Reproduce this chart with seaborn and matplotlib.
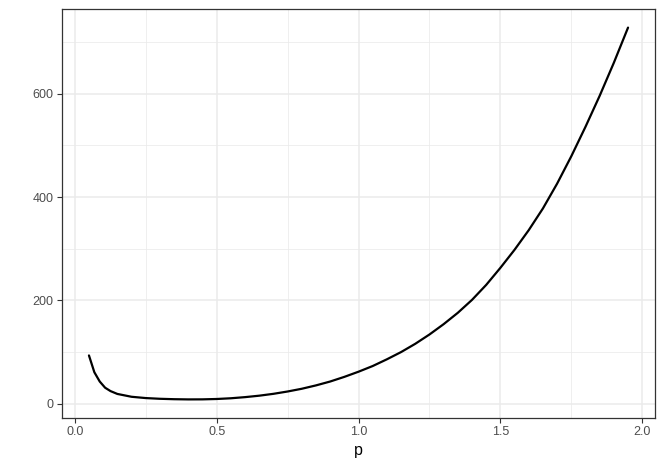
import numpy as np
import pandas as pd
import matplotlib
matplotlib.use("Agg")
import matplotlib.pyplot as plt
import seaborn as sns
from matplotlib.ticker import MultipleLocator

# values
p_vals = [0.05, 0.069, 0.088, 0.107, 0.126, 0.15, 0.2, 0.25, 0.3, 0.35,
          0.4, 0.45, 0.5, 0.55, 0.6, 0.65, 0.7, 0.75, 0.8, 0.85,
          0.9, 0.95, 1.0, 1.05, 1.1, 1.15, 1.2, 1.25, 1.3, 1.35,
          1.4, 1.45, 1.5, 1.55, 1.6, 1.65, 1.7, 1.75, 1.8, 1.85,
          1.9, 1.95]
y_vals = [93.5, 61, 43, 31, 24.5, 19, 13.5, 11, 9.6, 8.8,
          8.4, 8.5, 9.2, 10.6, 12.8, 15.6, 19.2, 23.7, 29, 35.5,
          43, 52, 62, 73, 86, 100, 116, 134, 154, 176,
          201, 230, 263, 298, 336, 378, 426, 479, 536, 596,
          660, 728]
x_ticks = [0.0, 0.5, 1.0, 1.5, 2.0]
x_tick_labels = ["0.0", "0.5", "1.0", "1.5", "2.0"]
y_ticks = [0, 200, 400, 600]
y_tick_labels = ["0", "200", "400", "600"]

df = pd.DataFrame({"p": p_vals, "y": y_vals})

sns.set_theme(style="white")
plt.rcParams["font.family"] = ["Liberation Sans", "DejaVu Sans"]

fig = plt.figure(figsize=(6.64, 4.70), dpi=100)
ax = fig.add_axes([62/664, 1-418/470, (655-62)/664, (418-9)/470])
ax.set_facecolor("white")

sns.lineplot(data=df, x="p", y="y", ax=ax, color="black", linewidth=1.6,
             estimator=None, sort=False)

xr = max(p_vals) - min(p_vals)
yr = max(y_vals) - min(y_vals)
ax.set_xlim(min(p_vals) - 0.05*xr, max(p_vals) + 0.05*xr)
ax.set_ylim(min(y_vals) - 0.05*yr, max(y_vals) + 0.05*yr)

ax.set_xticks(x_ticks)
ax.set_xticklabels(x_tick_labels)
ax.set_yticks(y_ticks)
ax.set_yticklabels(y_tick_labels)
ax.xaxis.set_minor_locator(MultipleLocator(0.25))
ax.yaxis.set_minor_locator(MultipleLocator(100))

ax.grid(True, which="major", color="#EBEBEB", linewidth=1.1)
ax.grid(True, which="minor", color="#EBEBEB", linewidth=0.55)
ax.set_axisbelow(True)

for s in ax.spines.values():
    s.set_visible(True)
    s.set_color("#333333")
    s.set_linewidth(0.9)

ax.tick_params(axis="both", which="major", length=3.5, width=0.8,
               color="#333333", labelcolor="#4D4D4D", labelsize=9, pad=2.5,
               bottom=True, left=True)
ax.tick_params(axis="both", which="minor", length=0)

ax.set_xlabel("p", fontsize=11.5, color="black", labelpad=3)
ax.set_ylabel("")

fig.savefig("out.png", dpi=100)
